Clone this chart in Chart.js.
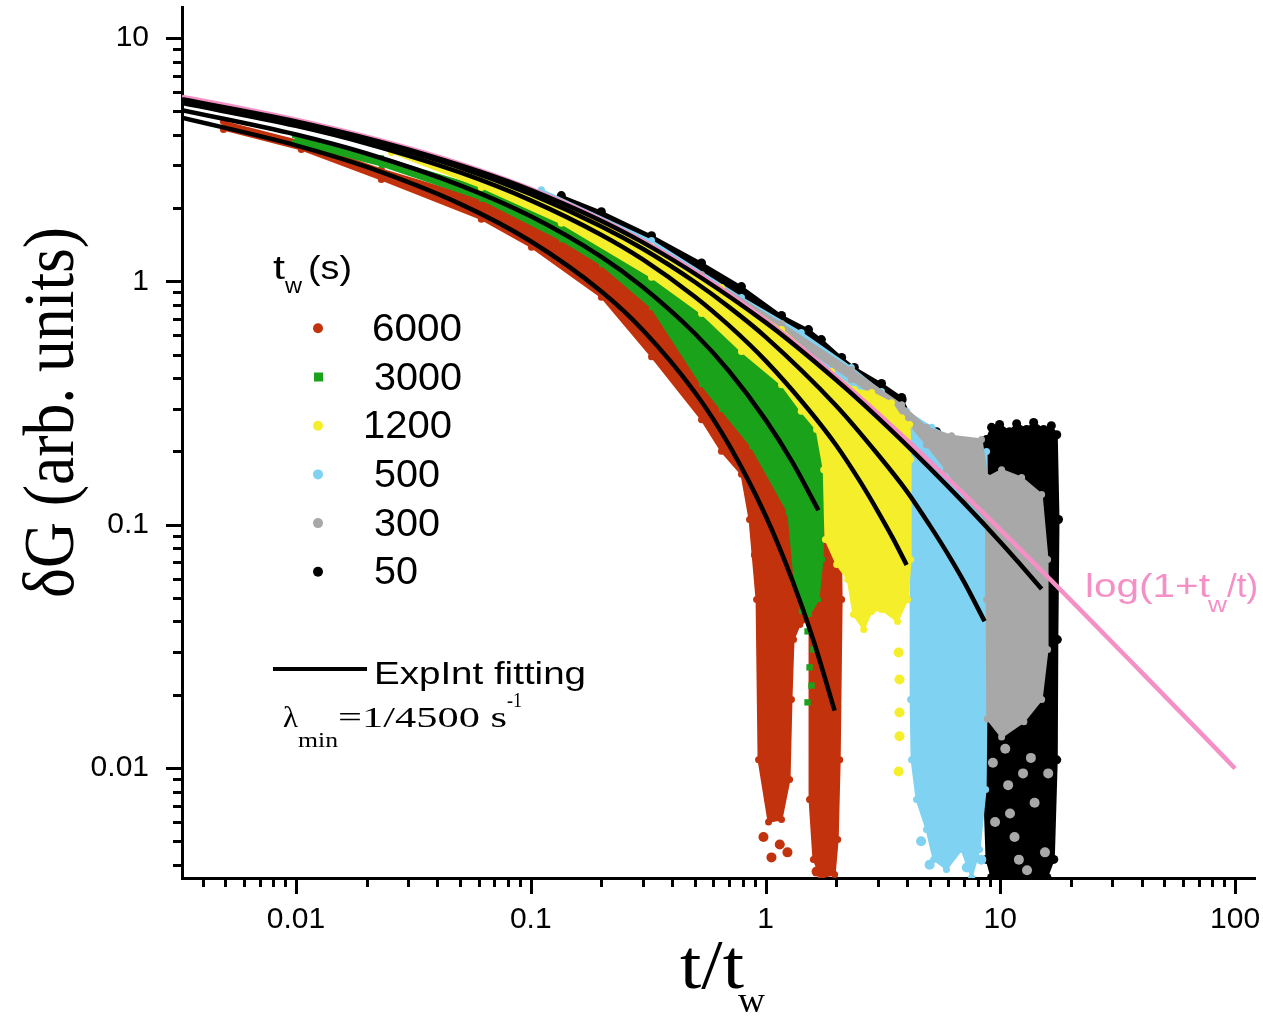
<!DOCTYPE html>
<html>
<head>
<meta charset="utf-8">
<script src="https://cdn.jsdelivr.net/npm/chart.js@4.4.1/dist/chart.umd.min.js"></script>
<style>
  html, body { margin: 0; padding: 0; background: #fff; }
  #wrap { width: 1263px; height: 1017px; position: relative; }
</style>
</head>
<body>
<div id="wrap"><canvas id="relaxChart"></canvas></div>
<script>
// tick labels
const xTickVals = [0.01, 0.1, 1, 10, 100];
const xTickText = ['0.01', '0.1', '1', '10', '100'];
const yTickVals = [0.01, 0.1, 1, 10];
const yTickText = ['0.01', '0.1', '1', '10'];

// log(1+tw/t) reference curve
const logRefX = [0.00327, 0.005, 0.008, 0.012, 0.02, 0.035, 0.06, 0.1, 0.17, 0.3, 0.5, 0.8, 1.3, 2, 3.5, 6, 10, 20, 40, 70, 100];
const logRefY = [5.726, 5.303, 4.836, 4.435, 3.932, 3.387, 2.872, 2.398, 1.929, 1.466, 1.099, 0.811, 0.571, 0.405, 0.251, 0.154, 0.0953, 0.0488, 0.0247, 0.0142, 0.00995];

// ExpInt fitting curves
const fit6000X = [0.00327, 0.01, 0.02, 0.05, 0.1, 0.2, 0.3, 0.5, 0.7, 1.0, 1.3, 1.6, 1.97];
const fit6000Y = [4.70, 3.62, 2.95, 2.08, 1.46, 0.908, 0.631, 0.350, 0.212, 0.109, 0.0592, 0.0335, 0.0172];
const fit3000X = [0.00327, 0.01, 0.02, 0.05, 0.1, 0.2, 0.3, 0.5, 0.7, 1.0, 1.3, 1.68];
const fit3000Y = [5.05, 4.01, 3.35, 2.48, 1.85, 1.26, 0.947, 0.610, 0.427, 0.270, 0.181, 0.1145];
const fit1200X = [0.00327, 0.01, 0.02, 0.05, 0.1, 0.2, 0.3, 0.5, 0.7, 1.0, 1.5, 2.0, 2.5, 3.0, 3.5, 3.99];
const fit1200Y = [5.40, 4.35, 3.68, 2.80, 2.15, 1.55, 1.23, 0.864, 0.657, 0.472, 0.303, 0.212, 0.153, 0.114, 0.0874, 0.0683];
const fit500X = [0.00327, 0.01, 0.02, 0.05, 0.1, 0.2, 0.3, 0.5, 0.7, 1, 2, 3, 4, 5, 6, 7, 8.57];
const fit500Y = [5.55, 4.49, 3.81, 2.93, 2.28, 1.68, 1.36, 0.993, 0.783, 0.591, 0.308, 0.195, 0.137, 0.0995, 0.0753, 0.0583, 0.0401];
const fit50X = [0.00327, 0.01, 0.03, 0.1, 0.3, 1, 2, 3, 5, 7, 10, 12, 15];
const fit50Y = [5.60, 4.54, 3.48, 2.37, 1.445, 0.678, 0.393, 0.276, 0.1712, 0.1228, 0.0849, 0.0697, 0.0544];

// measured points, tw = 6000 s (outline of the dense cloud, then loose points)
const s6000CloudX = [0.00491, 0.01054, 0.0231, 0.0616, 0.1007, 0.200, 0.327, 0.534, 0.790, 1.06, 1.42, 1.73, 2.07, 2.11, 2.07, 2.03, 1.97, 1.73, 1.60, 1.54, 1.54, 1.40, 1.316, 1.29, 1.266, 1.17, 1.03, 0.934, 0.916, 0.855, 0.790, 0.649, 0.534, 0.327, 0.200, 0.1007, 0.0616, 0.0231, 0.01054, 0.00491];
const s6000CloudY = [4.53, 3.75, 2.88, 2.17, 1.79, 1.25, 0.841, 0.477, 0.311, 0.224, 0.185, 0.194, 0.185, 0.0492, 0.0108, 0.00508, 0.00365, 0.00355, 0.00421, 0.00742, 0.0407, 0.0389, 0.0337, 0.0191, 0.00897, 0.00614, 0.0060, 0.0108, 0.0492, 0.105, 0.161, 0.200, 0.270, 0.49, 0.86, 1.38, 1.80, 2.62, 3.48, 4.20];
const s6000DotX = [1.06, 1.15, 0.98, 1.24, 1.65, 1.87, 0.91];
const s6000DotY = [0.00429, 0.00485, 0.0052, 0.0045, 0.00375, 0.0040, 0.075];

// tw = 3000 s
const s3000CloudX = [0.00985, 0.0231, 0.0616, 0.135, 0.327, 0.534, 0.790, 1.06, 1.42, 1.65, 1.77, 1.78, 1.75, 1.68, 1.54, 1.42, 1.33, 1.25, 0.872, 0.649, 0.534, 0.327, 0.200, 0.135, 0.0616, 0.0231, 0.00985];
const s3000CloudY = [3.97, 3.22, 2.43, 2.01, 1.20, 0.80, 0.60, 0.468, 0.342, 0.283, 0.246, 0.153, 0.0719, 0.0492, 0.0427, 0.0439, 0.0595, 0.112, 0.209, 0.297, 0.376, 0.780, 1.17, 1.48, 2.17, 2.99, 3.71];
const s3000DotX = [1.51, 1.60, 1.54, 1.57, 1.51];
const s3000DotY = [0.0364, 0.0307, 0.0259, 0.0218, 0.0186];

// tw = 1200 s
const s1200CloudX = [0.0255, 0.0616, 0.135, 0.327, 0.649, 1.17, 1.91, 2.39, 2.83, 3.44, 3.80, 4.11, 4.15, 4.15, 4.03, 3.65, 3.12, 2.83, 2.62, 2.37, 2.24, 2.01, 1.80, 1.77, 1.65, 1.42, 1.17, 0.790, 0.534, 0.327, 0.135, 0.0616, 0.0255];
const s1200CloudY = [3.61, 2.74, 2.10, 1.39, 0.942, 0.633, 0.426, 0.359, 0.349, 0.317, 0.275, 0.258, 0.185, 0.0719, 0.0492, 0.0400, 0.0448, 0.0439, 0.0371, 0.0427, 0.0595, 0.0686, 0.0868, 0.168, 0.246, 0.292, 0.376, 0.514, 0.737, 1.04, 1.73, 2.43, 3.38];
const s1200DotX = [2.56, 3.69, 3.72, 3.72, 3.72, 3.69];
const s1200DotY = [0.0461, 0.0298, 0.0231, 0.0169, 0.0135, 0.00967];

// tw = 500 s
const s500CloudX = [0.111, 0.327, 0.790, 1.42, 2.32, 3.12, 3.99, 5.10, 6.84, 8.74, 8.83, 8.74, 8.66, 8.16, 7.55, 6.84, 5.90, 5.20, 4.85, 4.40, 4.19, 4.15, 4.15, 4.15, 4.03, 3.12, 2.32, 1.42, 0.790, 0.327, 0.111];
const s500CloudY = [2.38, 1.47, 0.857, 0.616, 0.442, 0.352, 0.292, 0.251, 0.218, 0.1996, 0.0719, 0.0191, 0.00816, 0.00462, 0.00355, 0.00462, 0.00383, 0.00421, 0.00559, 0.00742, 0.0108, 0.0191, 0.0492, 0.168, 0.168, 0.224, 0.270, 0.395, 0.633, 1.20, 2.17];
const s500DotX = [5.0, 6.2, 7.2, 8.3, 4.6];
const s500DotY = [0.0040, 0.0045, 0.0039, 0.0042, 0.0050];

// tw = 300 s
const s300CloudX = [0.534, 1.17, 2.32, 3.80, 4.85, 6.20, 8.32, 8.80, 10.13, 12.33, 15.0, 15.9, 15.9, 15.0, 12.6, 10.13, 8.80, 8.75, 8.70, 7.18, 5.90, 4.85, 3.80, 2.32, 1.17, 0.534];
const s300CloudY = [1.065, 0.670, 0.434, 0.311, 0.251, 0.232, 0.224, 0.156, 0.168, 0.156, 0.133, 0.0719, 0.0307, 0.0191, 0.0155, 0.0134, 0.0159, 0.0492, 0.105, 0.127, 0.168, 0.213, 0.283, 0.395, 0.616, 0.988];
const s300DotX = [10.5, 12.5, 9.5, 14.0, 11.5, 15.5, 13.0, 10.8, 13.5, 16.0, 11.0, 9.3, 12.0];
const s300DotY = [0.012, 0.0095, 0.0060, 0.0072, 0.0052, 0.0045, 0.0038, 0.0085, 0.011, 0.0095, 0.0065, 0.0105, 0.0042];

// tw = 50 s
const s50CloudX = [0.135, 0.200, 0.327, 0.534, 0.790, 1.17, 1.525, 1.73, 2.11, 2.39, 3.12, 3.80, 4.19, 5.35, 6.84, 8.74, 9.18, 9.93, 10.95, 11.74, 12.94, 13.87, 15.3, 16.5, 17.4, 17.7, 17.5, 17.4, 16.9, 15.8, 9.18, 8.74, 8.57, 8.66, 8.66, 6.84, 5.10, 3.12, 1.73, 0.790, 0.327, 0.135];
const s50CloudY = [2.25, 1.93, 1.54, 1.19, 0.951, 0.723, 0.633, 0.576, 0.486, 0.442, 0.380, 0.333, 0.270, 0.241, 0.213, 0.224, 0.251, 0.258, 0.241, 0.260, 0.246, 0.263, 0.246, 0.255, 0.234, 0.105, 0.0337, 0.0108, 0.00421, 0.00355, 0.00355, 0.00421, 0.00742, 0.0191, 0.0719, 0.0954, 0.168, 0.270, 0.455, 0.841, 1.41, 2.13];
const s50DotX = [3.80, 14.5];
const s50DotY = [0.327, 0.0037];

const legendLabels = ['6000', '3000', '1200', '500', '300', '50'];
const seriesColors = ['#c2320c', '#1aa31a', '#f5ee2a', '#7fd2f1', '#a8a8a8', '#000000'];
const pinkColor = '#f590c6';

const SANS = '"Liberation Sans", Arial, sans-serif';
const SERIF = '"Liberation Serif", "Times New Roman", serif';

function toPts(xs, ys) {
    return xs.map(function (x, i) { return { x: x, y: ys[i] }; });
}

function cloud(xs, ys, color, order, style, r) {
    return {
        type: 'line', data: toPts(xs, ys), order: order,
        showLine: true, borderColor: color, borderWidth: 2, backgroundColor: color,
        fill: 'shape', tension: 0,
        pointRadius: r || 3.5, pointStyle: style || 'circle',
        pointBackgroundColor: color, pointBorderWidth: 0
    };
}

function dots(xs, ys, color, order, style) {
    return {
        type: 'line', data: toPts(xs, ys), order: order, showLine: false, fill: false,
        pointRadius: style === 'rect' ? 4.5 : 5, pointStyle: style || 'circle',
        pointBackgroundColor: color, pointBorderWidth: 0, backgroundColor: color
    };
}

function fitLine(xs, ys) {
    return {
        type: 'line', data: toPts(xs, ys), order: 0, borderColor: '#000', borderWidth: 4.5,
        pointRadius: 0, fill: false, cubicInterpolationMode: 'monotone'
    };
}

function fitText(ctx, txt, x, y, size, family, width) {
    ctx.font = size + 'px ' + family;
    const w = ctx.measureText(txt).width;
    ctx.save();
    ctx.translate(x, y);
    ctx.scale(width ? width / w : 1, 1);
    ctx.fillText(txt, 0, 0);
    ctx.restore();
}

function drawTickMarks(ctx, scale, horizontal) {
    ctx.save();
    ctx.strokeStyle = '#000';
    ctx.lineWidth = 3;
    for (let e = -3; e <= 2; e++) {
        for (let m = 1; m <= 9; m++) {
            const v = m * Math.pow(10, e);
            if (v < scale.min || v > scale.max) continue;
            const p = Math.round(scale.getPixelForValue(v)) + 0.5;
            const len = m === 1 ? 16 : 9;
            ctx.beginPath();
            if (horizontal) {
                ctx.moveTo(p, scale.top);
                ctx.lineTo(p, scale.top + len);
            } else {
                ctx.moveTo(scale.right, p);
                ctx.lineTo(scale.right - len, p);
            }
            ctx.stroke();
        }
    }
    ctx.restore();
}

const decor = {
    id: 'decor',
    afterDraw(chart) {
        const ctx = chart.ctx;
        drawTickMarks(ctx, chart.scales.x, true);
        drawTickMarks(ctx, chart.scales.y, false);

        ctx.save();
        ctx.fillStyle = '#000';
        ctx.textBaseline = 'alphabetic';
        ctx.textAlign = 'left';

        // axis titles
        ctx.save();
        ctx.translate(73, 598);
        ctx.rotate(-Math.PI / 2);
        fitText(ctx, 'δG (arb. units)', 0, 0, 72, SERIF, 371);
        ctx.restore();
        fitText(ctx, 't/t', 680, 988, 70, SERIF, 64);
        fitText(ctx, 'w', 738, 1012, 36, SERIF, 27);

        // legend
        fitText(ctx, 't', 273, 279, 34, SANS, 12);
        fitText(ctx, 'w', 285, 293, 22, SANS, 17);
        fitText(ctx, '(s)', 308, 279, 34, SANS, 44);
        const labelX = [372, 374, 363, 374, 374, 374];
        const labelW = [90, 88, 89, 66, 66, 44];
        legendLabels.forEach(function (lab, i) {
            const y = 328.3 + i * 48.7;
            ctx.fillStyle = seriesColors[i];
            ctx.beginPath();
            if (i === 1) {
                ctx.fillRect(314, y - 4.5, 9, 9);
            } else {
                ctx.arc(318, y, 5, 0, Math.PI * 2);
                ctx.fill();
            }
            ctx.fillStyle = '#000';
            fitText(ctx, lab, labelX[i], y + 12.5, 38, SANS, labelW[i]);
        });

        ctx.strokeStyle = '#000';
        ctx.lineWidth = 4;
        ctx.beginPath();
        ctx.moveTo(273, 669);
        ctx.lineTo(367, 669);
        ctx.stroke();
        fitText(ctx, 'ExpInt fitting', 374, 684, 32, SANS, 212);

        fitText(ctx, 'λ', 283, 727, 30, SERIF, 15);
        fitText(ctx, 'min', 298, 747, 22, SERIF, 40);
        fitText(ctx, '=1/4500 s', 338, 727, 30, SERIF, 169);
        fitText(ctx, '-1', 507, 707, 20, SERIF, 15);

        ctx.fillStyle = pinkColor;
        fitText(ctx, 'log(1+t', 1085, 597, 34, SANS, 125);
        fitText(ctx, 'w', 1208, 612, 22, SANS, 19);
        fitText(ctx, '/t)', 1227, 597, 34, SANS, 31);
        ctx.restore();
    }
};

document.addEventListener("DOMContentLoaded", function () {
    const ctx = document.getElementById('relaxChart').getContext('2d');
    new Chart(ctx, {
        type: 'line',
        data: {
            datasets: [
                fitLine(fit6000X, fit6000Y),
                fitLine(fit3000X, fit3000Y),
                fitLine(fit1200X, fit1200Y),
                fitLine(fit500X, fit500Y),
                fitLine(fit50X, fit50Y),
                {
                    type: 'line', data: toPts(logRefX, logRefY), order: 1, borderColor: pinkColor,
                    borderWidth: 4.5, pointRadius: 0, fill: false, cubicInterpolationMode: 'monotone'
                },
                cloud(s1200CloudX, s1200CloudY, seriesColors[2], 3),
                dots(s1200DotX, s1200DotY, seriesColors[2], 2),
                cloud(s3000CloudX, s3000CloudY, seriesColors[1], 5, 'rect'),
                dots(s3000DotX, s3000DotY, seriesColors[1], 4, 'rect'),
                cloud(s6000CloudX, s6000CloudY, seriesColors[0], 7),
                dots(s6000DotX, s6000DotY, seriesColors[0], 6),
                cloud(s300CloudX, s300CloudY, seriesColors[4], 9),
                dots(s300DotX, s300DotY, seriesColors[4], 8),
                cloud(s500CloudX, s500CloudY, seriesColors[3], 11),
                dots(s500DotX, s500DotY, seriesColors[3], 10),
                cloud(s50CloudX, s50CloudY, seriesColors[5], 13, 'circle', 4.5),
                dots(s50DotX, s50DotY, seriesColors[5], 12)
            ]
        },
        options: {
            responsive: true,
            maintainAspectRatio: false,
            animation: false,
            events: [],
            layout: { padding: { top: 7, right: 8, left: 0, bottom: 0 } },
            plugins: {
                legend: { display: false },
                tooltip: { enabled: false }
            },
            scales: {
                x: {
                    type: 'logarithmic',
                    position: 'bottom',
                    min: 0.00327,
                    max: 121.6,
                    grid: { display: false, drawTicks: false },
                    border: { display: true, color: '#000', width: 3 },
                    afterBuildTicks: function (scale) {
                        scale.ticks = xTickVals.map(function (v) { return { value: v }; });
                    },
                    afterFit: function (scale) {
                        scale.height = 139;
                        scale.paddingLeft = 0;
                        scale.paddingRight = 0;
                    },
                    ticks: {
                        autoSkip: false,
                        maxRotation: 0,
                        padding: 24,
                        color: '#000',
                        font: { family: SANS, size: 30 },
                        callback: function (v) {
                            const i = xTickVals.indexOf(v);
                            return i >= 0 ? xTickText[i] : '';
                        }
                    }
                },
                y: {
                    type: 'logarithmic',
                    position: 'left',
                    min: 0.00353,
                    max: 13.4,
                    grid: { display: false, drawTicks: false },
                    border: { display: true, color: '#000', width: 3 },
                    afterBuildTicks: function (scale) {
                        scale.ticks = yTickVals.map(function (v) { return { value: v }; });
                    },
                    afterFit: function (scale) {
                        scale.width = 182;
                        scale.paddingTop = 0;
                        scale.paddingBottom = 0;
                    },
                    ticks: {
                        autoSkip: false,
                        padding: 33,
                        color: '#000',
                        font: { family: SANS, size: 30 },
                        callback: function (v) {
                            const i = yTickVals.indexOf(v);
                            return i >= 0 ? yTickText[i] : '';
                        }
                    }
                }
            }
        },
        plugins: [decor]
    });
});
</script>
</body>
</html>
